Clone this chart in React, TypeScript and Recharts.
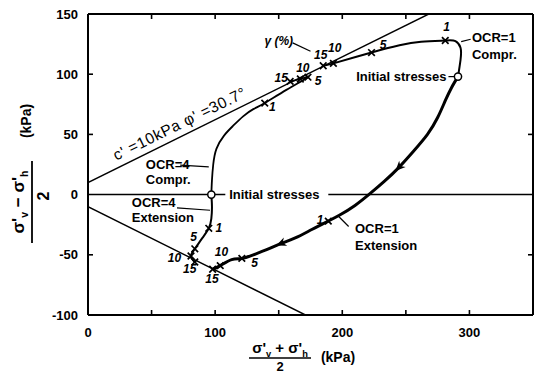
import React from "react";
import {
  ComposedChart,
  Line,
  Scatter,
  XAxis,
  YAxis,
  ReferenceLine,
  Customized,
} from "recharts";

const W = 537;
const H = 373;
const M = { top: 13, right: 3, bottom: 0, left: 0 };
const Y_AXIS_W = 88;
const X_AXIS_H = 58;
const P_MAX = 350;
const Q_MIN = -100;
const Q_MAX = 150;
const PLOT_TOP = M.top + 1;
const PLOT_RIGHT = W - M.right - 1;
const PLOT_BOTTOM = H - X_AXIS_H;
const PX_P = (PLOT_RIGHT - Y_AXIS_W) / P_MAX;
const PX_Q = (PLOT_BOTTOM - PLOT_TOP) / (Q_MAX - Q_MIN);
const TICK_LEN = 5;

const FONT = "'Liberation Sans Narrow', 'Liberation Sans', Arial, sans-serif";

const X_TICKS = [0, 50, 100, 150, 200, 250, 300, 350];
const X_INNER_TICKS = [50, 100, 150, 200, 250, 300];
const Y_TICKS = [-100, -50, 0, 50, 100, 150];
const Y_LEFT_INNER_TICKS = [-50, 50, 100];
const Y_RIGHT_INNER_TICKS = [-50, 50, 100];

// failure envelopes, c' = 10 kPa, phi' = 30.7 deg
const compressionEnvelope = [
  { p: 0, q: 10 },
  { p: 268, q: 150 },
];
const extensionEnvelope = [
  { p: 0, q: -10 },
  { p: 171, q: -100 },
];

// stress paths, p' = (s'v + s'h)/2, q = (s'v - s'h)/2
const ocr1Compression = [
  { p: 291, q: 98 },
  { p: 293, q: 112 },
  { p: 293, q: 122 },
  { p: 289, q: 127.5 },
  { p: 281, q: 128 },
  { p: 262, q: 127 },
  { p: 245, q: 124 },
  { p: 223, q: 118 },
  { p: 193, q: 109 },
  { p: 185, q: 107 },
];
const ocr4Compression = [
  { p: 97, q: 0 },
  { p: 97.5, q: 12 },
  { p: 98.5, q: 25 },
  { p: 101, q: 38 },
  { p: 107, q: 49 },
  { p: 114, q: 57 },
  { p: 122, q: 65 },
  { p: 130, q: 71 },
  { p: 139, q: 76 },
  { p: 156, q: 87 },
  { p: 173, q: 97.5 },
  { p: 167, q: 96 },
  { p: 159, q: 94 },
];
const ocr1Extension = [
  { p: 291, q: 98 },
  { p: 286, q: 89 },
  { p: 281, q: 78 },
  { p: 275, q: 64 },
  { p: 267, q: 50 },
  { p: 256, q: 36 },
  { p: 244, q: 22 },
  { p: 233, q: 11 },
  { p: 222, q: 1 },
  { p: 210, q: -9 },
  { p: 198, q: -17 },
  { p: 189, q: -22 },
  { p: 176, q: -29 },
  { p: 163, q: -36 },
  { p: 151, q: -41 },
  { p: 140, q: -46 },
  { p: 130, q: -50 },
  { p: 121, q: -53 },
  { p: 113, q: -54 },
  { p: 104, q: -59 },
  { p: 98, q: -62 },
];
const ocr4Extension = [
  { p: 97, q: 0 },
  { p: 97.5, q: -10 },
  { p: 97, q: -20 },
  { p: 95, q: -28 },
  { p: 90, q: -36 },
  { p: 84, q: -45 },
  { p: 81, q: -51 },
  { p: 84, q: -56 },
];

// loading direction arrows sit on these points of the OCR=1 extension path
const ocr1ExtensionArrowIdx = [6, 14];

const initialStresses = [
  { p: 291, q: 98 },
  { p: 97, q: 0 },
];

// shear strain gamma (%) points
const strainPoints = [
  { p: 281, q: 128 },
  { p: 223, q: 118 },
  { p: 193, q: 109 },
  { p: 185, q: 107 },
  { p: 139, q: 76 },
  { p: 173, q: 97.5 },
  { p: 167, q: 96 },
  { p: 159, q: 94 },
  { p: 189, q: -22 },
  { p: 121, q: -53 },
  { p: 104, q: -59 },
  { p: 98, q: -62 },
  { p: 95, q: -28 },
  { p: 84, q: -45 },
  { p: 81, q: -51 },
  { p: 84, q: -56 },
];

const strainLabels = [
  { p: 150, q: 127.5, text: "γ (%)" },
  { p: 282, q: 139, text: "1" },
  { p: 232, q: 124, text: "5" },
  { p: 194, q: 122, text: "10" },
  { p: 183, q: 116, text: "15" },
  { p: 145, q: 73, text: "1" },
  { p: 181, q: 94, text: "5" },
  { p: 169, q: 105, text: "10" },
  { p: 152, q: 97, text: "15" },
  { p: 182.5, q: -21.5, text: "1" },
  { p: 131, q: -57, text: "5" },
  { p: 105, q: -48, text: "10" },
  { p: 97.5, q: -70, text: "15" },
  { p: 103, q: -28, text: "1" },
  { p: 83, q: -35, text: "5" },
  { p: 68, q: -53, text: "10" },
  { p: 80, q: -62, text: "15" },
];

const callouts = [
  { p: 302, q: 130.5, text: "OCR=1" },
  { p: 302, q: 116.5, text: "Compr." },
  { p: 45.5, q: 25, text: "OCR=4" },
  { p: 45.5, q: 12.5, text: "Compr." },
  { p: 111, q: 0, text: "Initial stresses" },
  { p: 34.5, q: -6.5, text: "OCR=4" },
  { p: 34.5, q: -19, text: "Extension" },
  { p: 210, q: -28, text: "OCR=1" },
  { p: 210, q: -42, text: "Extension" },
];
const calloutsRight = [{ p: 282, q: 98, text: "Initial stresses" }];

const leaders = [
  [{ p: 161, q: 126 }, { p: 175, q: 119 }],
  [{ p: 293.5, q: 127 }, { p: 301, q: 129 }],
  [{ p: 283.5, q: 98 }, { p: 288.5, q: 98 }],
  [{ p: 72.5, q: 24.5 }, { p: 95, q: 23 }],
  [{ p: 70, q: -11 }, { p: 96, q: -13 }],
  [{ p: 197, q: -18 }, { p: 205, q: -26.5 }],
];

const zeroLineSegments = [
  [0, 108],
  [189, 350],
];

const arrowPoints = ocr1ExtensionArrowIdx.map((i) => {
  const a = ocr1Extension[i - 1];
  const b = ocr1Extension[i + 1];
  return { p: ocr1Extension[i].p, q: ocr1Extension[i].q, dp: b.p - a.p, dq: b.q - a.q };
});

const px = (p: number) => Y_AXIS_W + p * PX_P;
const py = (q: number) => PLOT_TOP + (Q_MAX - q) * PX_Q;

// inward tick marks on all four sides of the frame
const FrameTicks = () => (
  <g stroke="#000" strokeWidth={1.6}>
    {X_INNER_TICKS.map((v) => (
      <line key={`b${v}`} x1={px(v)} x2={px(v)} y1={PLOT_BOTTOM} y2={PLOT_BOTTOM - TICK_LEN} />
    ))}
    {X_INNER_TICKS.map((v) => (
      <line key={`t${v}`} x1={px(v)} x2={px(v)} y1={PLOT_TOP} y2={PLOT_TOP + TICK_LEN} />
    ))}
    {Y_LEFT_INNER_TICKS.map((v) => (
      <line key={`l${v}`} x1={Y_AXIS_W} x2={Y_AXIS_W + TICK_LEN} y1={py(v)} y2={py(v)} />
    ))}
    {Y_RIGHT_INNER_TICKS.map((v) => (
      <line key={`r${v}`} x1={PLOT_RIGHT} x2={PLOT_RIGHT - TICK_LEN} y1={py(v)} y2={py(v)} />
    ))}
  </g>
);

const Cross = (props: any) => {
  const { cx, cy } = props;
  const s = 3.3;
  return (
    <path
      d={`M${cx - s},${cy - s}L${cx + s},${cy + s}M${cx - s},${cy + s}L${cx + s},${cy - s}`}
      stroke="#000"
      strokeWidth={1.7}
      fill="none"
    />
  );
};

const OpenCircle = (props: any) => (
  <circle cx={props.cx} cy={props.cy} r={3.6} fill="#fff" stroke="#000" strokeWidth={1.5} />
);

const Arrowhead = (props: any) => {
  const { cx, cy, payload } = props;
  const ang = (Math.atan2(-payload.dq * PX_Q, payload.dp * PX_P) * 180) / Math.PI;
  return (
    <polygon
      points="4,0 -6,-4.5 -3,0 -6,4.5"
      fill="#000"
      transform={`translate(${cx},${cy}) rotate(${ang})`}
    />
  );
};

const StrainText = (props: any) => (
  <text
    x={props.cx}
    y={props.cy}
    textAnchor="middle"
    dominantBaseline="central"
    fontFamily={FONT}
    fontSize={12}
    fontStyle="italic"
    fontWeight={700}
    fill="#000"
  >
    {props.payload.text}
  </text>
);

const calloutShape = (anchor: "start" | "end") => (props: any) => (
  <text
    x={props.cx}
    y={props.cy}
    textAnchor={anchor}
    dominantBaseline="central"
    fontFamily={FONT}
    fontSize={13}
    fontWeight={700}
    fill="#000"
  >
    {props.payload.text}
  </text>
);

const EnvelopeLabel = () => {
  const x = px(72);
  const y = py(59);
  return (
    <text
      x={x}
      y={y}
      textAnchor="middle"
      dominantBaseline="central"
      fontFamily={FONT}
      fontSize={15.5}
      letterSpacing={0.6}
      fill="#000"
      transform={`rotate(-26.2 ${x} ${y})`}
    >
      c' =10kPa  φ' =30.7°
    </text>
  );
};

const sub = (s: string, size: number) => (
  <>
    <tspan dy={size * 0.25} fontSize={size * 0.62}>
      {s}
    </tspan>
    <tspan dy={-size * 0.25}> </tspan>
  </>
);

const AxisTitles = () => (
  <g fontFamily={FONT} fontWeight={700} fill="#000">
    {/* x axis: (s'v + s'h) / 2 (kPa) */}
    <text x={280} y={353} textAnchor="middle" fontSize={15}>
      σ'{sub("v", 15)}+ σ'{sub("h", 15)}
    </text>
    <line x1={249} y1={358} x2={311} y2={358} stroke="#000" strokeWidth={1.6} />
    <text x={280} y={371} textAnchor="middle" fontSize={13}>
      2
    </text>
    <text x={338} y={362} textAnchor="middle" fontSize={14}>
      (kPa)
    </text>
    {/* y axis: (s'v - s'h) / 2 (kPa) */}
    <g transform="translate(31,202) rotate(-90)">
      <text x={0} y={-7} textAnchor="middle" fontSize={17}>
        σ'{sub("v", 17)}− σ'{sub("h", 17)}
      </text>
      <line x1={-41} y1={1} x2={41} y2={1} stroke="#000" strokeWidth={1.8} />
      <text x={6} y={18} textAnchor="middle" fontSize={16}>
        2
      </text>
    </g>
    <text x={0} y={0} textAnchor="middle" fontSize={14} transform="translate(31,121) rotate(-90)">
      (kPa)
    </text>
  </g>
);

const tickStyle = { fill: "#000", fontSize: 13, fontWeight: 700, fontFamily: FONT };
const axisLine = { stroke: "#000", strokeWidth: 2 };

export default function App() {
  return (
    <div style={{ position: "absolute", left: 0, top: 0, width: W, height: H, background: "#fff" }}>
      <ComposedChart width={W} height={H} margin={M}>
        <XAxis
          dataKey="p"
          type="number"
          domain={[0, P_MAX]}
          ticks={X_TICKS}
          interval={0}
          tickFormatter={(v: number) => (v % 100 === 0 && v < P_MAX ? String(v) : "")}
          height={X_AXIS_H}
          tickSize={-5}
          tickMargin={18}
          axisLine={axisLine}
          tickLine={false}
          tick={tickStyle}
          allowDataOverflow
        />
        <XAxis
          xAxisId="top"
          orientation="top"
          dataKey="p"
          type="number"
          domain={[0, P_MAX]}
          ticks={[]}
          height={1}
          axisLine={axisLine}
          tickLine={false}
          tick={false}
          allowDataOverflow
        />
        <YAxis
          dataKey="q"
          type="number"
          domain={[Q_MIN, Q_MAX]}
          ticks={Y_TICKS}
          interval={0}
          width={Y_AXIS_W}
          tickSize={-5}
          tickMargin={15}
          axisLine={axisLine}
          tickLine={false}
          tick={tickStyle}
          allowDataOverflow
        />
        <YAxis
          yAxisId="right"
          orientation="right"
          dataKey="q"
          type="number"
          domain={[Q_MIN, Q_MAX]}
          ticks={[]}
          width={1}
          axisLine={axisLine}
          tickLine={false}
          tick={false}
          allowDataOverflow
        />

        {zeroLineSegments.map(([a, b], i) => (
          <ReferenceLine
            key={`z${i}`}
            segment={[
              { x: a, y: 0 },
              { x: b, y: 0 },
            ]}
            stroke="#000"
            strokeWidth={1.5}
          />
        ))}
        {leaders.map(([a, b], i) => (
          <ReferenceLine
            key={`l${i}`}
            segment={[
              { x: a.p, y: a.q },
              { x: b.p, y: b.q },
            ]}
            stroke="#000"
            strokeWidth={1.2}
          />
        ))}

        <Line data={compressionEnvelope} dataKey="q" type="linear" stroke="#000" strokeWidth={1.4} dot={false} isAnimationActive={false} />
        <Line data={extensionEnvelope} dataKey="q" type="linear" stroke="#000" strokeWidth={1.4} dot={false} isAnimationActive={false} />
        <Line data={ocr1Compression} dataKey="q" type="natural" stroke="#000" strokeWidth={2} dot={false} isAnimationActive={false} />
        <Line data={ocr4Compression} dataKey="q" type="natural" stroke="#000" strokeWidth={1.8} dot={false} isAnimationActive={false} />
        <Line data={ocr1Extension} dataKey="q" type="natural" stroke="#000" strokeWidth={3} dot={false} isAnimationActive={false} />
        <Line data={ocr4Extension} dataKey="q" type="natural" stroke="#000" strokeWidth={2} dot={false} isAnimationActive={false} />

        <Scatter data={strainPoints} dataKey="q" shape={Cross} isAnimationActive={false} />
        <Scatter data={arrowPoints} dataKey="q" shape={Arrowhead} isAnimationActive={false} />
        <Scatter data={initialStresses} dataKey="q" shape={OpenCircle} isAnimationActive={false} />
        <Scatter data={strainLabels} dataKey="q" shape={StrainText} isAnimationActive={false} />
        <Scatter data={callouts} dataKey="q" shape={calloutShape("start")} isAnimationActive={false} />
        <Scatter data={calloutsRight} dataKey="q" shape={calloutShape("end")} isAnimationActive={false} />

        <Customized component={FrameTicks} />
        <Customized component={EnvelopeLabel} />
        <Customized component={AxisTitles} />
      </ComposedChart>
    </div>
  );
}
